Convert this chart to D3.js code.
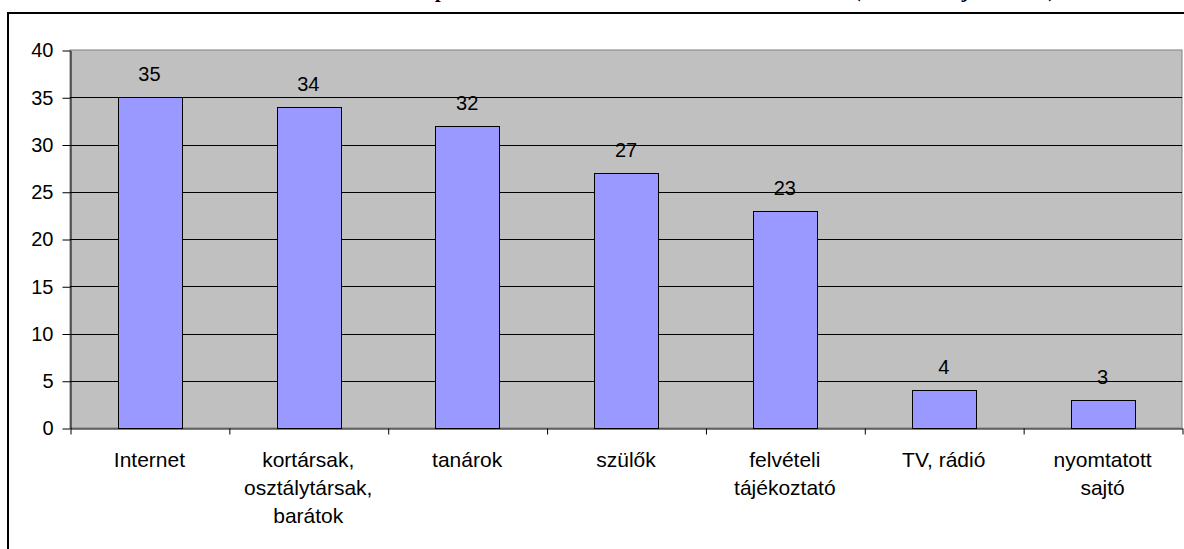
<!DOCTYPE html>
<html>
<head>
<meta charset="utf-8">
<script src="https://cdn.jsdelivr.net/npm/d3@7"></script>
<style>
  html, body { margin: 0; padding: 0; background: #fff; overflow: hidden; }
  svg { display: block; }
</style>
</head>
<body>
<svg id="canvas"></svg>
<script>
let categories = [
    ['Internet'],
    ['kortársak,', 'osztálytársak,', 'barátok'],
    ['tanárok'],
    ['szülők'],
    ['felvételi', 'tájékoztató'],
    ['TV, rádió'],
    ['nyomtatott', 'sajtó']
]
let values = [35, 34, 32, 27, 23, 4, 3]
let yTicks = [0, 5, 10, 15, 20, 25, 30, 35, 40]
let title = 'A továbbtanulással kapcsolatos információk forrásai a diákok körében (több válasz jelölésével)'

let width = 1184
let height = 549
let plot = { left: 70, right: 1182, top: 50, bottom: 428 }

let canvas = d3.select('#canvas')
canvas.attr('width', width).attr('height', height)

let xScale = d3.scaleBand()
    .domain(d3.range(values.length))
    .range([plot.left, plot.right])
    .paddingInner(0.6)
    .paddingOuter(0.3)

let edgeScale = d3.scaleLinear()
    .domain([0, values.length])
    .range([plot.left, plot.right])

let yScale = d3.scaleLinear()
    .domain([0, 40])
    .range([plot.bottom, plot.top])

// outer chart frame (runs off the page right and bottom)
canvas.append('rect')
    .attr('x', 8).attr('y', 13)
    .attr('width', 1300).attr('height', 700)
    .attr('fill', 'none')
    .attr('stroke', '#000')
    .attr('stroke-width', 2)

// title, mostly cut off above the page: only descenders show
canvas.append('text')
    .attr('x', 1055)
    .attr('y', -3)
    .attr('text-anchor', 'end')
    .attr('font-family', '"Liberation Serif", "Times New Roman", serif')
    .attr('font-weight', 'bold')
    .attr('font-size', 20)
    .text(title)

// plot area
canvas.append('rect')
    .attr('x', plot.left).attr('y', plot.top)
    .attr('width', plot.right - plot.left)
    .attr('height', plot.bottom - plot.top)
    .attr('fill', '#C0C0C0')
    .attr('stroke', '#808080')
    .attr('stroke-width', 1)

canvas.append('g')
    .selectAll('line')
    .data(yTicks.filter(t => t > 0 && t < 40))
    .enter()
    .append('line')
    .attr('x1', plot.left).attr('x2', plot.right)
    .attr('y1', d => Math.round(yScale(d)) + 0.5)
    .attr('y2', d => Math.round(yScale(d)) + 0.5)
    .attr('stroke', '#000')

canvas.selectAll('.bar')
    .data(values)
    .enter()
    .append('rect')
    .attr('class', 'bar')
    .attr('x', (d, i) => Math.round(xScale(i)) + 0.5)
    .attr('y', d => Math.round(yScale(d)) + 0.5)
    .attr('width', Math.round(xScale.bandwidth()))
    .attr('height', d => Math.round(yScale(0)) - Math.round(yScale(d)))
    .attr('fill', '#9999FF')
    .attr('stroke', '#000')
    .attr('stroke-width', 1)

canvas.selectAll('.value')
    .data(values)
    .enter()
    .append('text')
    .attr('class', 'value')
    .attr('x', (d, i) => xScale(i) + xScale.bandwidth() / 2)
    .attr('y', d => yScale(d) - 16)
    .attr('text-anchor', 'middle')
    .attr('font-family', '"Liberation Sans", Arial, sans-serif')
    .attr('font-size', 20)
    .text(d => d)

let yAxis = d3.axisLeft(yScale)
    .tickValues(yTicks)
    .tickSize(8)
    .tickSizeOuter(0)
    .tickPadding(9)

let yG = canvas.append('g')
    .attr('transform', 'translate(' + (plot.left + 0.5) + ',0.5)')
    .call(yAxis)
yG.selectAll('text')
    .attr('font-family', '"Liberation Sans", Arial, sans-serif')
    .attr('font-size', 20)
    .attr('fill', '#000')

let xAxis = d3.axisBottom(edgeScale)
    .tickValues(d3.range(values.length + 1))
    .tickFormat('')
    .tickSize(6)
    .tickSizeOuter(0)

canvas.append('g')
    .attr('transform', 'translate(0.5,' + (plot.bottom + 0.5) + ')')
    .call(xAxis)

let catG = canvas.append('g')
    .selectAll('text')
    .data(categories)
    .enter()
    .append('text')
    .attr('text-anchor', 'middle')
    .attr('font-family', '"Liberation Sans", Arial, sans-serif')
    .attr('font-size', 21)
    .attr('x', (d, i) => xScale(i) + xScale.bandwidth() / 2)
    .attr('y', 467)

catG.selectAll('tspan')
    .data(d => d)
    .enter()
    .append('tspan')
    .attr('x', function () { return d3.select(this.parentNode).attr('x') })
    .attr('dy', (d, i) => i === 0 ? 0 : 28)
    .text(d => d)
</script>
</body>
</html>
